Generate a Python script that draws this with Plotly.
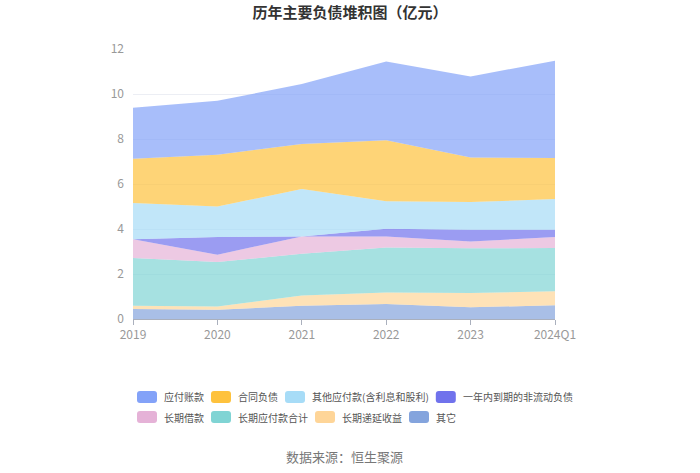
import plotly.graph_objects as go

years = ["2019", "2020", "2021", "2022", "2023", "2024Q1"]
names = ["应付账款", "合同负债", "其他应付款(含利息和股利)", "一年内到期的非流动负债",
         "长期借款", "长期应付款合计", "长期递延收益", "其它"]
yingfu = [2.27, 2.40, 2.66, 3.51, 3.60, 4.32]
hetong = [1.96, 2.30, 2.00, 2.71, 1.98, 1.83]
qitayingfu = [1.61, 1.36, 2.11, 1.22, 1.23, 1.36]
yinian = [0.00, 0.78, 0.00, 0.34, 0.52, 0.33]
changqijie = [0.84, 0.33, 0.77, 0.49, 0.31, 0.48]
changqiyingfu = [2.12, 1.97, 1.86, 2.00, 1.98, 1.93]
diyan = [0.15, 0.15, 0.45, 0.51, 0.64, 0.62]
qita = [0.44, 0.41, 0.59, 0.67, 0.52, 0.61]

series = [yingfu, hetong, qitayingfu, yinian, changqijie, changqiyingfu, diyan, qita]
colors = ["#83a2f8", "#fec23d", "#a7dcf7", "#7072ec", "#e5b2d7", "#80d4d4", "#fed598", "#84a4dd"]

W, H = 700, 473
ML, MR, MT, MB = 133, 145, 49, 154
PW, PH = W - ML - MR, H - MT - MB


def rgba(h, a):
    h = h.lstrip("#")
    return "rgba(%d,%d,%d,%.2f)" % (int(h[0:2], 16), int(h[2:4], 16), int(h[4:6], 16), a)


def px2paper(px, py):
    return (px - ML) / PW, (H - MB - py) / PH


fig = go.Figure()
# stack from bottom (其它) upward
for i in list(range(len(names)))[::-1]:
    fig.add_trace(go.Scatter(
        x=years, y=series[i], name=names[i], mode="lines",
        stackgroup="one", line=dict(width=0, color=colors[i]),
        fillcolor=rgba(colors[i], 0.7), showlegend=False, hoverinfo="skip"))

fig.update_layout(
    width=W, height=H,
    margin=dict(l=ML, r=MR, t=MT, b=MB),
    paper_bgcolor="white", plot_bgcolor="white",
    font=dict(family="Noto Sans CJK SC, sans-serif", color="#666666", size=12),
    title=dict(text="<b>历年主要负债堆积图（亿元）</b>", x=0.5, xanchor="center",
               y=0.972, yanchor="middle", font=dict(size=15, color="#333333")),
    xaxis=dict(showgrid=False, showline=True, linecolor="#aab0bd",
               ticks="outside", tickcolor="#aab0bd", ticklen=5,
               tickfont=dict(color="#999999", size=12), zeroline=False),
    yaxis=dict(range=[0, 12], dtick=2, showgrid=True, gridcolor="#eceef4",
               showline=False, zeroline=False, ticks="",
               tickfont=dict(color="#999999", size=12), ticklabelstandoff=8),
    showlegend=False,
)
fig.update_xaxes(type="category", range=[0, 5])


# custom legend (two rows, flowing left to right)
def text_width(s, fs=10):
    w = 0
    for ch in s:
        w += fs * 0.34 if ord(ch) < 128 else fs
    return w


rows = [(names[:4], colors[:4], 397), (names[4:], colors[4:], 417)]
for row_names, row_colors, cy in rows:
    cx = 137
    for nm, col in zip(row_names, row_colors):
        x0, y0 = px2paper(cx, cy - 6)
        x1, y1 = px2paper(cx + 20, cy + 6)
        r = 3 / PW
        ry = 3 / PH
        path = (f"M {x0 + r},{y0} L {x1 - r},{y0} Q {x1},{y0} {x1},{y0 - ry} "
                f"L {x1},{y1 + ry} Q {x1},{y1} {x1 - r},{y1} L {x0 + r},{y1} "
                f"Q {x0},{y1} {x0},{y1 + ry} L {x0},{y0 - ry} Q {x0},{y0} {x0 + r},{y0} Z")
        fig.add_shape(type="path", path=path, xref="paper", yref="paper",
                      fillcolor=col, line=dict(width=0))
        tx, ty = px2paper(cx + 25, cy)
        fig.add_annotation(text=nm, xref="paper", yref="paper", x=tx, y=ty,
                           xanchor="left", yanchor="middle", showarrow=False,
                           font=dict(size=10, color="#555555"))
        cx += 25 + text_width(nm) + 9

fig.add_annotation(text="数据来源：恒生聚源", xref="paper", yref="paper",
                   x=0.5, y=px2paper(0, 456)[1], xanchor="center", yanchor="middle",
                   showarrow=False, font=dict(size=13, color="#777777"))

fig.write_html("out.html")
